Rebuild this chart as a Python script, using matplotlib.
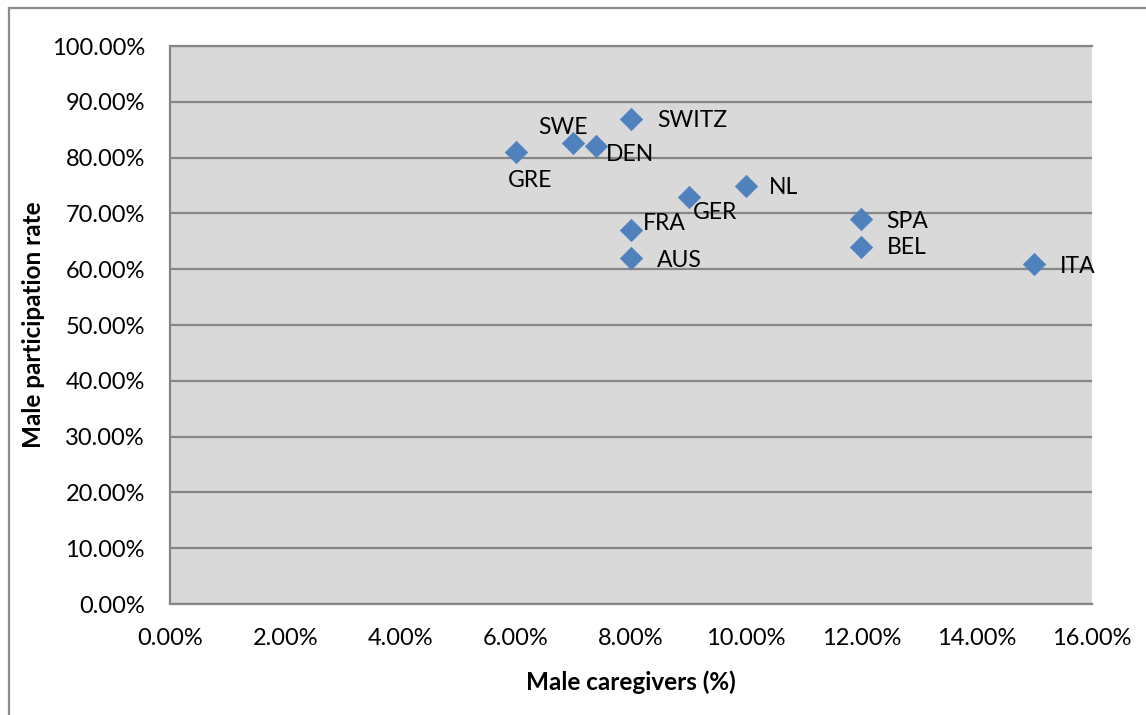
import matplotlib.pyplot as plt
from matplotlib.ticker import FuncFormatter, MultipleLocator
from matplotlib.lines import Line2D

# share of male caregivers vs male participation rate, by country
countries = ["GRE", "SWE", "DEN", "SWITZ", "FRA", "AUS", "GER", "NL", "SPA", "BEL", "ITA"]
caregivers = [0.060, 0.070, 0.074, 0.080, 0.080, 0.080, 0.090, 0.100, 0.120, 0.120, 0.150]
participation = [0.810, 0.827, 0.821, 0.870, 0.670, 0.620, 0.730, 0.750, 0.690, 0.640, 0.610]

# label offsets in pixels (dx, dy) from each marker
offsets = {
    "GRE": (-8, -28), "SWE": (-35, 15), "DEN": (10, -9), "SWITZ": (26, -2),
    "FRA": (12, 7), "AUS": (26, -2), "GER": (4, -16), "NL": (23, -2),
    "SPA": (25, -2), "BEL": (25, -1), "ITA": (26, -3),
}

plt.rcParams['font.family'] = ['Lato', 'DejaVu Sans']

fig = plt.figure(figsize=(11.46, 7.15), dpi=100)
ax = fig.add_axes([0.1483, 0.1552, 0.8045, 0.7804])
ax.set_facecolor("#d9d9d9")

ax.scatter(caregivers, participation, marker="D", s=130, color="#4f81bd",
           edgecolors="#4f81bd", linewidths=0.5, zorder=3)
for name, x, y in zip(countries, caregivers, participation):
    dx, dy = offsets[name]
    ax.annotate(name, (x, y), xytext=(dx, dy), textcoords="offset pixels",
                ha="left", va="center", fontsize=16.5, color="black", zorder=4)

ax.set_xlim(0, 0.16)
ax.set_ylim(0, 1.0)
ax.xaxis.set_major_locator(MultipleLocator(0.02))
ax.yaxis.set_major_locator(MultipleLocator(0.10))
ax.xaxis.set_major_formatter(FuncFormatter(lambda v, p: f"{v*100:.2f}%"))
ax.yaxis.set_major_formatter(FuncFormatter(lambda v, p: f"{v*100:.2f}%"))
ax.tick_params(length=0, labelsize=17)
ax.tick_params(axis="y", pad=18)
ax.tick_params(axis="x", pad=17)

ax.grid(axis="y", color="#868686", linewidth=1.6)
ax.set_axisbelow(True)
ax.spines["right"].set_visible(False)
for side in ["top", "left", "bottom"]:
    ax.spines[side].set_color("#868686")
    ax.spines[side].set_linewidth(1.6)

ax.set_xlabel("Male caregivers (%)", fontsize=17.5, fontweight="bold", labelpad=16)
ax.set_ylabel("Male participation rate", fontsize=17.5, fontweight="bold")
ax.yaxis.set_label_coords(-0.136, 0.5)

# chart frame (top and left edges)
fig.add_artist(Line2D([8.5 / 1146, 1.0], [1 - 7.5 / 715, 1 - 7.5 / 715],
                      color="#8c8c8c", linewidth=1.6, transform=fig.transFigure))
fig.add_artist(Line2D([8.5 / 1146, 8.5 / 1146], [0, 1 - 7.5 / 715],
                      color="#8c8c8c", linewidth=1.6, transform=fig.transFigure))

fig.savefig("out.png", dpi=100)
